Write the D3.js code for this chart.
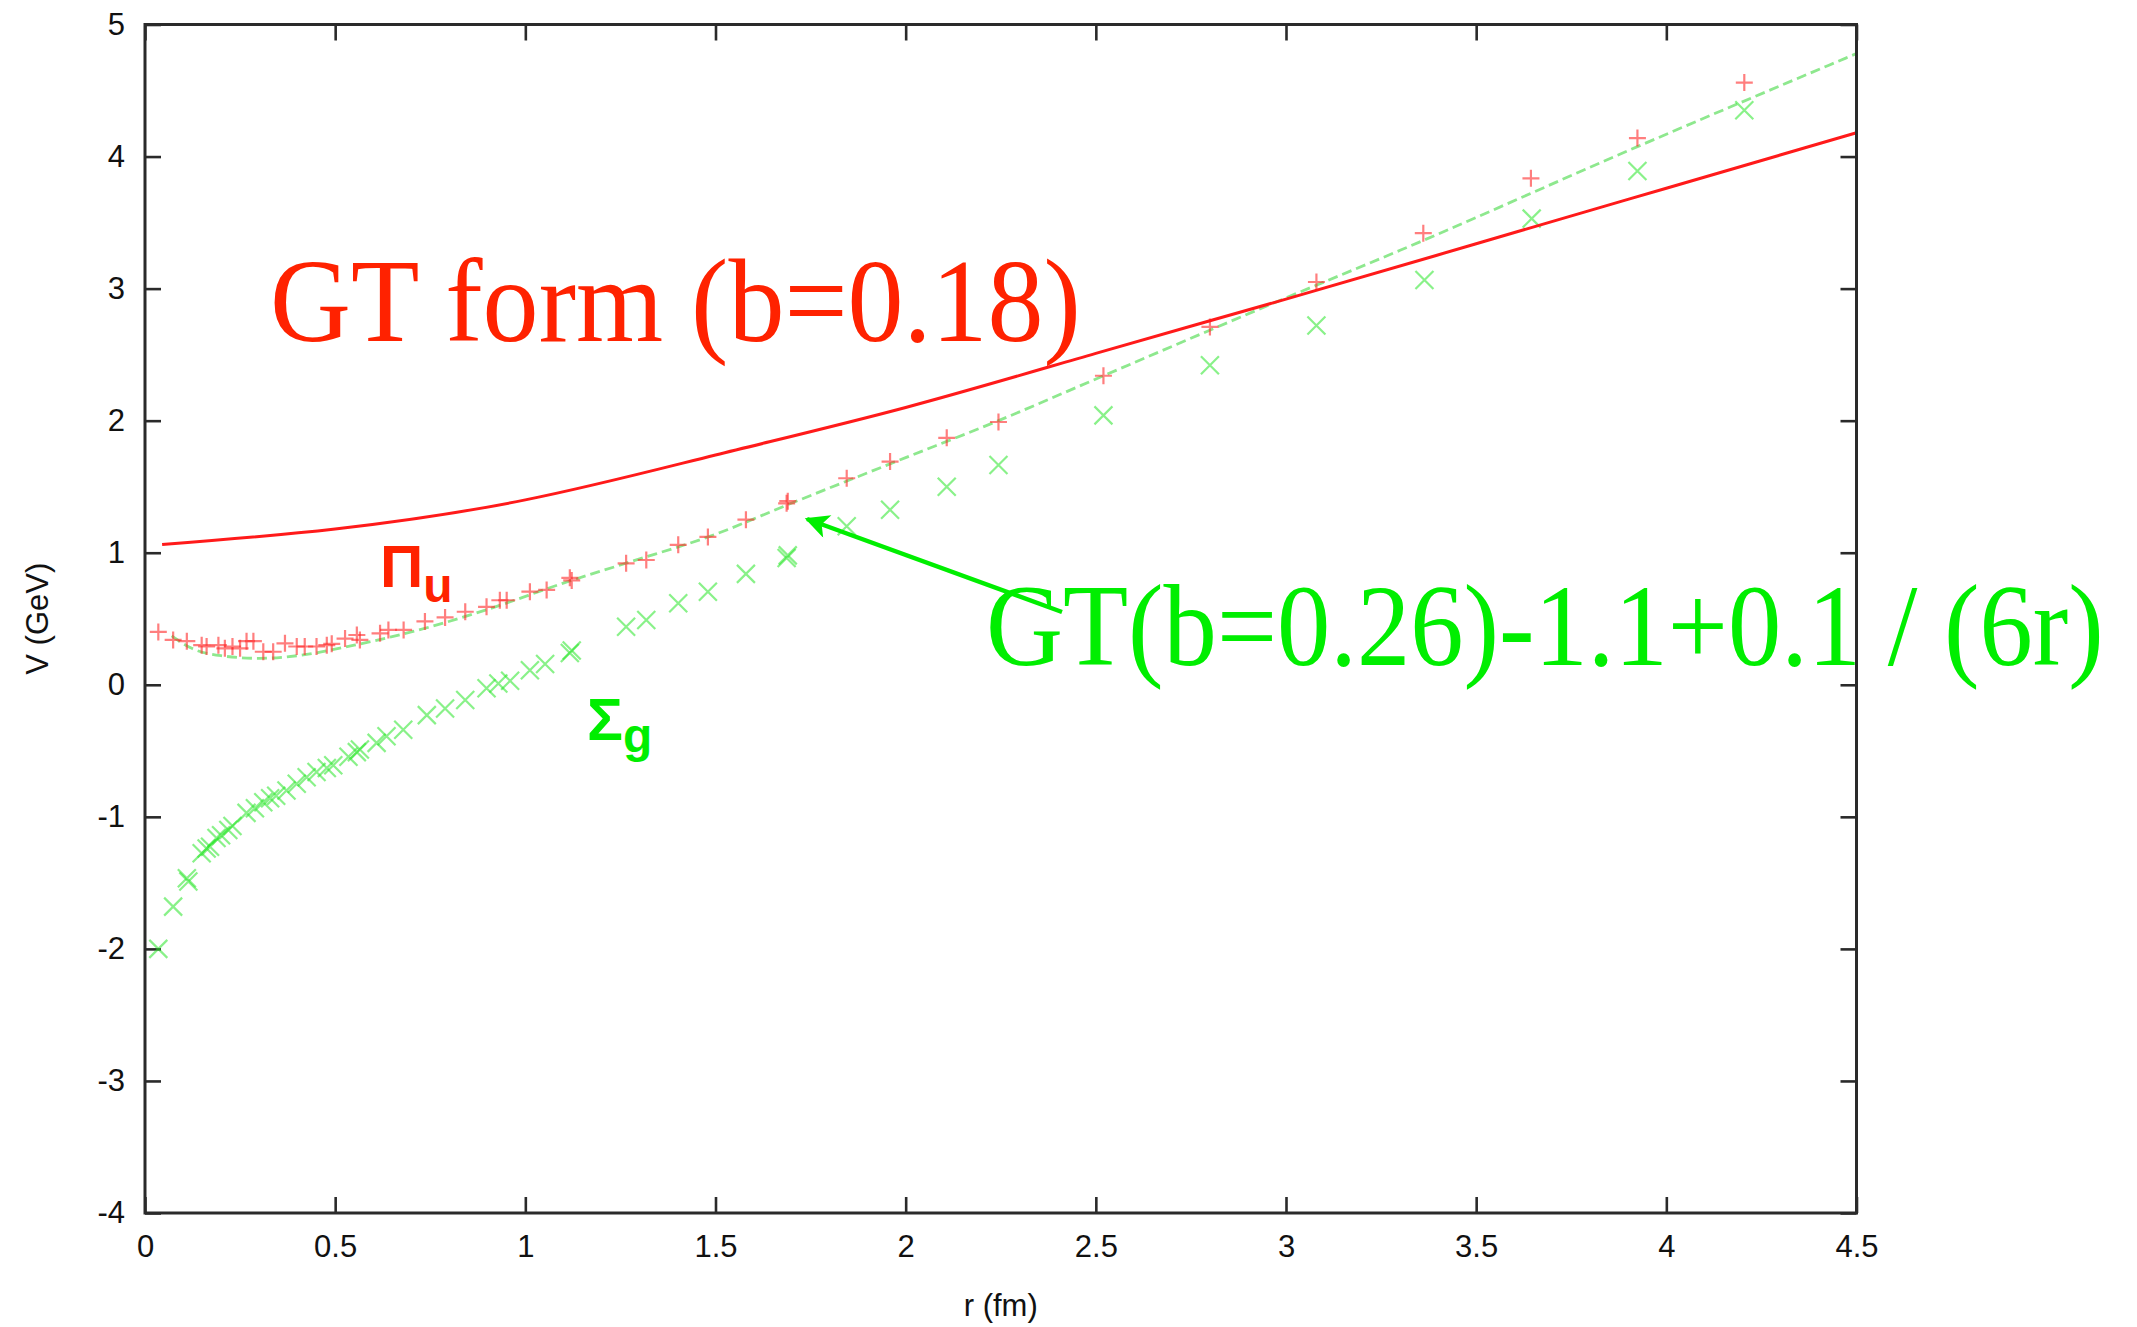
<!DOCTYPE html>
<html>
<head>
<meta charset="utf-8">
<script src="https://cdn.jsdelivr.net/npm/d3@7"></script>
<style>
  html, body { margin: 0; padding: 0; background: #ffffff; }
  svg { display: block; }
</style>
</head>
<body>
<svg id="chart" width="2137" height="1327"></svg>
<script>
// ---------- data ----------
const xTicks = [0, 0.5, 1, 1.5, 2, 2.5, 3, 3.5, 4, 4.5];
const yTicks = [-4, -3, -2, -1, 0, 1, 2, 3, 4, 5];

// Pi_u lattice points: r (fm)
const piU_r = [0.035,0.074,0.11,0.149,0.162,0.193,0.21,0.23,0.25,0.267,0.285,0.311,0.337,0.368,0.399,0.42,0.451,0.478,0.491,0.526,0.557,0.565,0.618,0.64,0.68,0.736,0.789,0.842,0.898,0.933,0.951,1.012,1.056,1.117,1.122,1.265,1.318,1.402,1.48,1.58,1.687,1.69,1.845,1.959,2.108,2.244,2.52,2.80,3.08,3.361,3.644,3.924,4.205];
// Pi_u lattice points: V (GeV)
const piU_v = [0.40,0.34,0.33,0.30,0.29,0.30,0.276,0.29,0.276,0.33,0.33,0.25,0.25,0.314,0.29,0.29,0.29,0.30,0.31,0.35,0.377,0.34,0.39,0.415,0.415,0.48,0.51,0.553,0.59,0.64,0.64,0.705,0.718,0.81,0.79,0.92,0.945,1.06,1.12,1.25,1.374,1.39,1.564,1.69,1.87,1.99,2.34,2.71,3.05,3.42,3.835,4.14,4.56];

// Sigma_g lattice points: r (fm)
const sigG_r = [0.035,0.074,0.11,0.114,0.149,0.162,0.171,0.188,0.2,0.219,0.23,0.267,0.289,0.311,0.329,0.345,0.372,0.399,0.425,0.451,0.478,0.495,0.535,0.557,0.565,0.609,0.635,0.679,0.741,0.789,0.842,0.898,0.929,0.96,1.012,1.052,1.117,1.122,1.265,1.318,1.402,1.48,1.58,1.687,1.69,1.845,1.959,2.108,2.244,2.52,2.80,3.08,3.364,3.646,3.924,4.205];
// Sigma_g lattice points: V (GeV)
const sigG_v = [-2.0,-1.68,-1.465,-1.49,-1.276,-1.24,-1.226,-1.16,-1.14,-1.10,-1.07,-0.97,-0.935,-0.89,-0.86,-0.84,-0.80,-0.75,-0.70,-0.66,-0.63,-0.61,-0.545,-0.51,-0.49,-0.44,-0.39,-0.34,-0.23,-0.18,-0.115,-0.026,0.01,0.03,0.11,0.157,0.24,0.26,0.44,0.49,0.617,0.705,0.84,0.96,0.98,1.20,1.325,1.50,1.665,2.04,2.42,2.72,3.065,3.53,3.89,4.35];

// GT form (b=0.18) curve, read points
const gt018_r = [0.045,0.5,1.0,1.5,2.0,2.5,3.0,3.5,4.0,4.5];
const gt018_v = [1.062,1.18,1.40,1.74,2.10,2.51,2.92,3.34,3.76,4.18];

// GT(b=0.26)-1.1+0.1/(6r) curve, read points
const gt026_r = [0.07,0.12,0.2,0.3,0.4,0.55,0.7,0.9,1.1,1.275,1.5,1.687,2.0,2.244,2.52,3.0,3.3,3.924,4.5];
const gt026_v = [0.37,0.28,0.22,0.20,0.22,0.30,0.40,0.57,0.77,0.93,1.14,1.36,1.72,2.0,2.34,2.93,3.29,4.075,4.78];

// ---------- layout ----------
const W = 2137, H = 1327;
const L = 145, R = 1856.5, T = 24.5, B = 1213;

const svg = d3.select("#chart");
svg.append("rect").attr("width", W).attr("height", H).attr("fill", "#ffffff");

const x = d3.scaleLinear().domain([0, 4.5]).range([L, R]);
const y = d3.scaleLinear().domain([-4, 5]).range([B, T]);

const tickFont = "'Liberation Sans', Arial, Helvetica, sans-serif";
const axisColor = "#2a2a2a";
const TICK = 16;

function styleAxis(g, showLabels) {
  g.select(".domain").remove();
  g.selectAll(".tick line").attr("stroke", axisColor).attr("stroke-width", 2.6);
  g.selectAll(".tick text")
    .attr("font-family", tickFont)
    .attr("font-size", 31)
    .attr("fill", "#111");
  if (!showLabels) g.selectAll(".tick text").remove();
}

// bottom
svg.append("g").attr("transform", `translate(0,${B})`)
  .call(d3.axisBottom(x).tickValues(xTicks).tickSize(-TICK).tickPadding(22).tickFormat(d => String(d)))
  .call(g => styleAxis(g, true));
// top
svg.append("g").attr("transform", `translate(0,${T})`)
  .call(d3.axisTop(x).tickValues(xTicks).tickSize(-TICK))
  .call(g => styleAxis(g, false));
// left
svg.append("g").attr("transform", `translate(${L},0)`)
  .call(d3.axisLeft(y).tickValues(yTicks).tickSize(-TICK).tickPadding(20).tickFormat(d => String(d)))
  .call(g => styleAxis(g, true));
// right
svg.append("g").attr("transform", `translate(${R},0)`)
  .call(d3.axisRight(y).tickValues(yTicks).tickSize(-TICK))
  .call(g => styleAxis(g, false));

// clip
svg.append("clipPath").attr("id", "plotclip")
  .append("rect").attr("x", L).attr("y", T).attr("width", R - L).attr("height", B - T);

const plot = svg.append("g").attr("clip-path", "url(#plotclip)");

const smooth = d3.line().x(d => x(d[0])).y(d => y(d[1])).curve(d3.curveNatural);
const mono = d3.line().x(d => x(d[0])).y(d => y(d[1])).curve(d3.curveMonotoneX);

// dashed green fit curve
plot.append("path")
  .datum(d3.zip(gt026_r, gt026_v))
  .attr("d", mono)
  .attr("fill", "none")
  .attr("stroke", "#8ee88e")
  .attr("stroke-width", 2.8)
  .attr("stroke-dasharray", "10,5");

// Sigma_g points (x markers)
const xs = 9;
plot.append("g").selectAll("path")
  .data(d3.zip(sigG_r, sigG_v))
  .join("path")
  .attr("d", d => {
    const cx = x(d[0]), cy = y(d[1]);
    return `M${cx - xs},${cy - xs}L${cx + xs},${cy + xs}M${cx - xs},${cy + xs}L${cx + xs},${cy - xs}`;
  })
  .attr("stroke", "rgba(40,230,40,0.55)")
  .attr("stroke-width", 2.2)
  .attr("fill", "none");

// Pi_u points (+ markers)
const ps = 8.5;
plot.append("g").selectAll("path")
  .data(d3.zip(piU_r, piU_v))
  .join("path")
  .attr("d", d => {
    const cx = x(d[0]), cy = y(d[1]);
    return `M${cx - ps},${cy}L${cx + ps},${cy}M${cx},${cy - ps}L${cx},${cy + ps}`;
  })
  .attr("stroke", "rgba(255,40,40,0.6)")
  .attr("stroke-width", 2.2)
  .attr("fill", "none");

// red solid GT form curve
plot.append("path")
  .datum(d3.zip(gt018_r, gt018_v))
  .attr("d", smooth)
  .attr("fill", "none")
  .attr("stroke", "#ff1a1a")
  .attr("stroke-width", 3);

// border
svg.append("rect")
  .attr("x", L).attr("y", T).attr("width", R - L).attr("height", B - T)
  .attr("fill", "none").attr("stroke", axisColor).attr("stroke-width", 3);

// axis titles
svg.append("text")
  .attr("x", (L + R) / 2).attr("y", 1316)
  .attr("text-anchor", "middle")
  .attr("font-family", tickFont).attr("font-size", 31).attr("fill", "#111")
  .text("r (fm)");
svg.append("text")
  .attr("transform", `translate(48,${(T + B) / 2}) rotate(-90)`)
  .attr("text-anchor", "middle")
  .attr("font-family", tickFont).attr("font-size", 31).attr("fill", "#111")
  .text("V (GeV)");

// annotations: big serif texts, horizontally fitted with a scale transform
const serif = "'Liberation Serif', 'Times New Roman', serif";
function fittedText(str, x0, yb, size, width, color) {
  const g = svg.append("g");
  const t = g.append("text")
    .attr("x", 0).attr("y", 0)
    .attr("font-family", serif).attr("font-size", size).attr("fill", color)
    .text(str);
  const natural = t.node().getComputedTextLength();
  const sx = width / natural;
  g.attr("transform", `translate(${x0},${yb}) scale(${sx},1)`);
}
fittedText("GT form (b=0.18)", 270, 341, 118, 811, "#ff2200");
fittedText("GT(b=0.26)-1.1+0.1 / (6r)", 986, 665, 116, 1118, "#00ee00");

const piLab = svg.append("text")
  .attr("x", 380).attr("y", 587)
  .attr("font-family", tickFont).attr("font-weight", "bold").attr("fill", "#ff2200");
piLab.append("tspan").attr("font-size", 60).text("Π");
piLab.append("tspan").attr("font-size", 48).attr("dy", 15).text("u");

const sigLab = svg.append("text")
  .attr("x", 587).attr("y", 740)
  .attr("font-family", tickFont).attr("font-weight", "bold").attr("fill", "#00ee00");
sigLab.append("tspan").attr("font-size", 60).text("Σ");
sigLab.append("tspan").attr("font-size", 48).attr("dy", 12).text("g");

// arrow
const defs = svg.append("defs");
defs.append("marker")
  .attr("id", "arrowhead")
  .attr("viewBox", "0 0 10 10")
  .attr("refX", 9).attr("refY", 5)
  .attr("markerUnits", "userSpaceOnUse")
  .attr("markerWidth", 28).attr("markerHeight", 24)
  .attr("orient", "auto")
  .append("path").attr("d", "M0,0L10,5L0,10L2.5,5Z").attr("fill", "#00ee00");

svg.append("line")
  .attr("x1", 1062).attr("y1", 612)
  .attr("x2", 807).attr("y2", 519)
  .attr("stroke", "#00ee00").attr("stroke-width", 4.5)
  .attr("marker-end", "url(#arrowhead)");
</script>
</body>
</html>
